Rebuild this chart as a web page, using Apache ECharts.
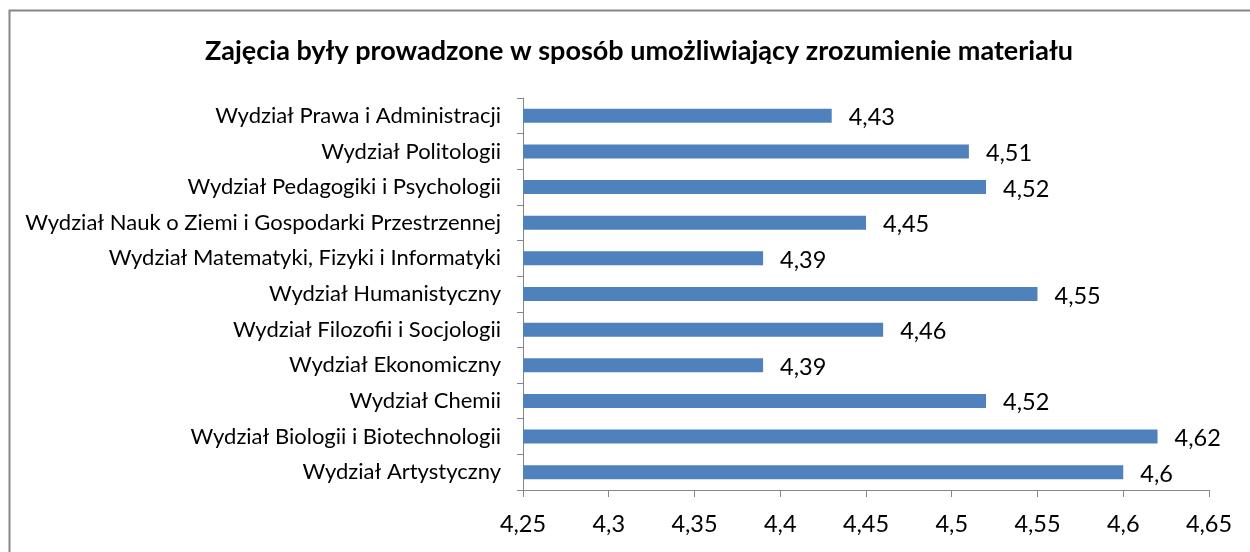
<!DOCTYPE html>
<html>
<head>
<meta charset="utf-8">
<script src="https://cdn.jsdelivr.net/npm/echarts@6/dist/echarts.min.js"></script>
<style>
html,body{margin:0;padding:0;background:#fff;}
#container{width:1250px;height:552px;}
</style>
</head>
<body>
<div id="container"></div>
<script>
// kategorie od dołu do góry (tak jak rysuje oś kategorii)
var wydzialy = [
    'Wydział Artystyczny',
    'Wydział Biologii i Biotechnologii',
    'Wydział Chemii',
    'Wydział Ekonomiczny',
    'Wydział Filozofii i Socjologii',
    'Wydział Humanistyczny',
    'Wydział Matematyki, Fizyki i Informatyki',
    'Wydział Nauk o Ziemi i Gospodarki Przestrzennej',
    'Wydział Pedagogiki i Psychologii',
    'Wydział Politologii',
    'Wydział Prawa i Administracji'
];
var oceny = [4.6, 4.62, 4.52, 4.39, 4.46, 4.55, 4.39, 4.45, 4.52, 4.51, 4.43];
var tytul = 'Zajęcia były prowadzone w sposób umożliwiający zrozumienie materiału';

var font = 'Lato, "Open Sans", sans-serif';
function przecinek(v){
    return String(+v.toFixed(2)).replace('.', ',');
}

var dom = document.getElementById('container');
var myChart = echarts.init(dom);
var option = {
    backgroundColor: '#fff',
    animation: false,
    title: {
        text: tytul,
        left: 200,
        top: 33,
        textStyle: {fontFamily: font, fontSize: 27, fontWeight: 'bold', color: '#000'}
    },
    graphic: [{
        type: 'rect',
        shape: {x: 9.5, y: 10.5, width: 1260, height: 560},
        style: {fill: 'none', stroke: '#868686', lineWidth: 2}
    }],
    grid: {left: 523, right: 41, top: 98, bottom: 62},
    xAxis: {
        type: 'value',
        min: 4.25,
        max: 4.65,
        interval: 0.05,
        axisLine: {show: true, lineStyle: {color: '#868686', width: 1}},
        axisTick: {show: true, length: 7, lineStyle: {color: '#868686'}},
        splitLine: {show: false},
        axisLabel: {
            margin: 22,
            fontFamily: font, fontSize: 23.5, color: '#000',
            formatter: przecinek
        }
    },
    yAxis: {
        type: 'category',
        data: wydzialy,
        axisLine: {show: true, lineStyle: {color: '#868686', width: 1}},
        axisTick: {show: true, length: 6, lineStyle: {color: '#868686'}},
        axisLabel: {margin: 22, fontFamily: font, fontSize: 22, color: '#000'}
    },
    series: [{
        type: 'bar',
        data: oceny,
        barWidth: 14,
        itemStyle: {color: '#4F81BD'},
        label: {
            show: true,
            position: 'right',
            distance: 17,
            offset: [0, 2],
            fontFamily: font, fontSize: 23.5, color: '#000',
            formatter: function(p){ return przecinek(p.value); }
        }
    }]
};
myChart.setOption(option, true);
</script>
</body>
</html>
